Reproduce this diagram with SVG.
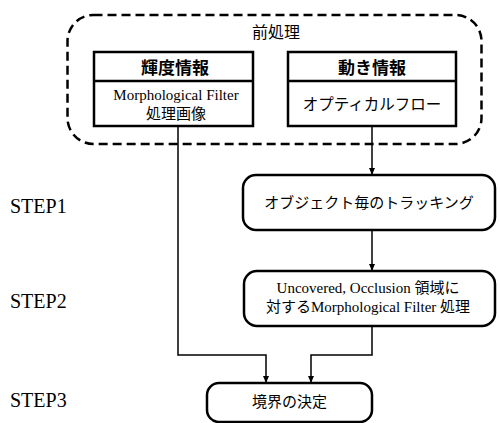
<svg xmlns="http://www.w3.org/2000/svg" width="500" height="423" viewBox="0 0 500 423">
<style>
.box{fill:#fff;stroke:#000;stroke-width:2.5}
.dash{fill:none;stroke:#000;stroke-width:2.5;stroke-dasharray:9 5}
.conn{fill:none;stroke:#000;stroke-width:1.5}
.t{font-family:"Liberation Serif","Noto Sans CJK JP",serif;fill:#000;text-anchor:middle}
.j{font-family:"Noto Sans CJK JP",sans-serif;fill:#000;text-anchor:middle}
.step{font-family:"Liberation Serif",serif;font-size:20px;fill:#000}
</style>
<defs>
<marker id="ah" markerWidth="8" markerHeight="8" refX="7" refY="4" orient="auto" markerUnits="userSpaceOnUse">
<path d="M0,1 L7,4 L0,7 Z" fill="#000"/>
</marker>
</defs>
<rect x="0" y="0" width="500" height="423" fill="#fff"/>
<g id="preprocess">
<rect class="dash" x="67.5" y="15" width="414" height="129" rx="26"/>
<text class="j" x="276" y="38" font-size="16">前処理</text>
</g>
<g id="luminance">
<rect class="box" x="94" y="52" width="159" height="74"/>
<line x1="94" y1="81" x2="253" y2="81" stroke="#000" stroke-width="2.5"/>
<text class="j" x="175" y="74" font-size="17" font-weight="bold">輝度情報</text>
<text class="t" x="176" y="100" font-size="15">Morphological Filter</text>
<text class="j" x="176" y="119" font-size="15">処理画像</text>
</g>
<g id="motion">
<rect class="box" x="288" y="52" width="168" height="74"/>
<line x1="288" y1="81" x2="456" y2="81" stroke="#000" stroke-width="2.5"/>
<text class="j" x="372" y="74" font-size="17" font-weight="bold">動き情報</text>
<text class="j" x="372" y="110" font-size="15.5">オプティカルフロー</text>
</g>
<g id="tracking">
<rect class="box" x="243" y="175" width="252" height="55" rx="13"/>
<text class="j" x="369" y="208" font-size="15">オブジェクト毎のトラッキング</text>
</g>
<g id="step2box">
<rect class="box" x="244" y="271" width="251" height="55" rx="13"/>
<text class="t" x="368" y="293" font-size="15">Uncovered, Occlusion 領域に</text>
<text class="t" x="368" y="312" font-size="15">対するMorphological Filter 処理</text>
</g>
<g id="boundary">
<rect class="box" x="207" y="383" width="165" height="39" rx="12"/>
<text class="j" x="289.5" y="407" font-size="15">境界の決定</text>
</g>
<g id="labels">
<text class="step" x="10" y="213">STEP1</text>
<text class="step" x="10" y="308">STEP2</text>
<text class="step" x="10" y="407">STEP3</text>
</g>
<g id="connectors">
<path class="conn" d="M372,126 V175" marker-end="url(#ah)"/>
<path class="conn" d="M372,230 V271" marker-end="url(#ah)"/>
<path class="conn" d="M178,126 V355 H266 V383" marker-end="url(#ah)"/>
<path class="conn" d="M372,326 V355 H311 V383" marker-end="url(#ah)"/>
</g>
</svg>
